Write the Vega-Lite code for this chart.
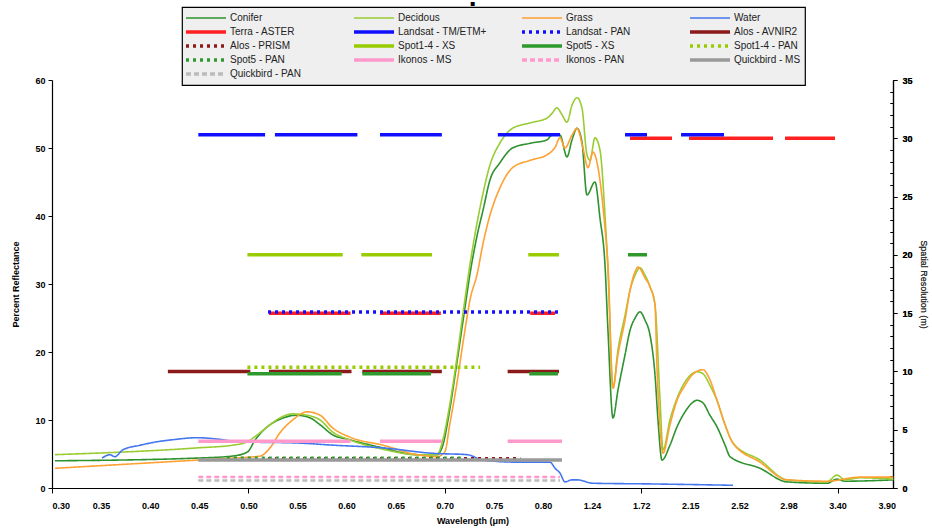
{
  "$schema": "https://vega.github.io/schema/vega-lite/v6.json",
  "width": 841,
  "height": 408,
  "autosize": {"type": "none"},
  "padding": {"left": 52, "top": 80, "right": 39, "bottom": 43},
  "title": {"text": "▪", "fontSize": 8, "font": "DejaVu Sans", "offset": -2, "anchor": "middle", "color": "#000"},
  "datasets": {
    "curves": [
      {"s":"Conifer","w":0.303,"r":4.0},{"s":"Conifer","w":0.448,"r":4.4},{"s":"Conifer","w":0.484,"r":4.7},{"s":"Conifer","w":0.499,"r":5.3},{"s":"Conifer","w":0.507,"r":7.1},{"s":"Conifer","w":0.522,"r":9.3},{"s":"Conifer","w":0.532,"r":10.1},{"s":"Conifer","w":0.549,"r":10.7},{"s":"Conifer","w":0.563,"r":10.3},{"s":"Conifer","w":0.573,"r":9.3},{"s":"Conifer","w":0.586,"r":7.8},{"s":"Conifer","w":0.603,"r":7.1},{"s":"Conifer","w":0.637,"r":5.9},{"s":"Conifer","w":0.672,"r":4.9},{"s":"Conifer","w":0.692,"r":4.9},{"s":"Conifer","w":0.698,"r":6.3},{"s":"Conifer","w":0.705,"r":11.5},{"s":"Conifer","w":0.712,"r":18.1},{"s":"Conifer","w":0.719,"r":25.0},{"s":"Conifer","w":0.726,"r":31.8},{"s":"Conifer","w":0.733,"r":37.2},{"s":"Conifer","w":0.739,"r":40.9},{"s":"Conifer","w":0.746,"r":45.3},{"s":"Conifer","w":0.756,"r":47.8},{"s":"Conifer","w":0.769,"r":50.0},{"s":"Conifer","w":0.787,"r":50.7},{"s":"Conifer","w":0.836,"r":51.2},{"s":"Conifer","w":0.881,"r":51.9},{"s":"Conifer","w":0.952,"r":51.9},{"s":"Conifer","w":1.015,"r":48.7},{"s":"Conifer","w":1.06,"r":51.2},{"s":"Conifer","w":1.105,"r":52.9},{"s":"Conifer","w":1.149,"r":50.9},{"s":"Conifer","w":1.194,"r":43.1},{"s":"Conifer","w":1.268,"r":45.0},{"s":"Conifer","w":1.317,"r":39.7},{"s":"Conifer","w":1.366,"r":32.8},{"s":"Conifer","w":1.395,"r":23.2},{"s":"Conifer","w":1.444,"r":10.3},{"s":"Conifer","w":1.493,"r":14.4},{"s":"Conifer","w":1.562,"r":19.6},{"s":"Conifer","w":1.611,"r":23.2},{"s":"Conifer","w":1.66,"r":25.0},{"s":"Conifer","w":1.708,"r":25.9},{"s":"Conifer","w":1.753,"r":24.7},{"s":"Conifer","w":1.797,"r":22.5},{"s":"Conifer","w":1.841,"r":16.6},{"s":"Conifer","w":1.867,"r":10.0},{"s":"Conifer","w":1.902,"r":4.1},{"s":"Conifer","w":1.972,"r":6.3},{"s":"Conifer","w":2.034,"r":9.0},{"s":"Conifer","w":2.104,"r":11.2},{"s":"Conifer","w":2.163,"r":12.5},{"s":"Conifer","w":2.2,"r":12.9},{"s":"Conifer","w":2.246,"r":12.5},{"s":"Conifer","w":2.298,"r":10.7},{"s":"Conifer","w":2.351,"r":9.0},{"s":"Conifer","w":2.412,"r":6.3},{"s":"Conifer","w":2.45,"r":4.6},{"s":"Conifer","w":2.713,"r":2.9},{"s":"Conifer","w":2.966,"r":0.9},{"s":"Conifer","w":3.309,"r":0.7},{"s":"Conifer","w":3.394,"r":1.3},{"s":"Conifer","w":3.475,"r":1.0},{"s":"Conifer","w":3.964,"r":1.2},
      {"s":"Decidous","w":0.303,"r":4.9},{"s":"Decidous","w":0.448,"r":5.9},{"s":"Decidous","w":0.484,"r":6.3},{"s":"Decidous","w":0.499,"r":6.8},{"s":"Decidous","w":0.507,"r":7.6},{"s":"Decidous","w":0.522,"r":9.3},{"s":"Decidous","w":0.532,"r":10.3},{"s":"Decidous","w":0.545,"r":10.9},{"s":"Decidous","w":0.56,"r":10.7},{"s":"Decidous","w":0.573,"r":10.0},{"s":"Decidous","w":0.586,"r":8.2},{"s":"Decidous","w":0.603,"r":7.1},{"s":"Decidous","w":0.637,"r":5.7},{"s":"Decidous","w":0.672,"r":4.9},{"s":"Decidous","w":0.692,"r":4.9},{"s":"Decidous","w":0.698,"r":7.1},{"s":"Decidous","w":0.705,"r":12.2},{"s":"Decidous","w":0.712,"r":18.8},{"s":"Decidous","w":0.719,"r":26.2},{"s":"Decidous","w":0.726,"r":33.2},{"s":"Decidous","w":0.733,"r":39.1},{"s":"Decidous","w":0.739,"r":43.4},{"s":"Decidous","w":0.746,"r":47.5},{"s":"Decidous","w":0.756,"r":50.7},{"s":"Decidous","w":0.769,"r":52.9},{"s":"Decidous","w":0.787,"r":53.7},{"s":"Decidous","w":0.836,"r":54.4},{"s":"Decidous","w":0.881,"r":55.1},{"s":"Decidous","w":0.925,"r":55.9},{"s":"Decidous","w":0.97,"r":54.9},{"s":"Decidous","w":1.015,"r":53.8},{"s":"Decidous","w":1.06,"r":56.3},{"s":"Decidous","w":1.105,"r":57.4},{"s":"Decidous","w":1.149,"r":55.9},{"s":"Decidous","w":1.194,"r":49.0},{"s":"Decidous","w":1.221,"r":48.2},{"s":"Decidous","w":1.268,"r":51.5},{"s":"Decidous","w":1.317,"r":49.7},{"s":"Decidous","w":1.366,"r":40.1},{"s":"Decidous","w":1.395,"r":32.1},{"s":"Decidous","w":1.444,"r":14.7},{"s":"Decidous","w":1.493,"r":20.3},{"s":"Decidous","w":1.562,"r":25.4},{"s":"Decidous","w":1.611,"r":29.1},{"s":"Decidous","w":1.66,"r":31.3},{"s":"Decidous","w":1.708,"r":32.4},{"s":"Decidous","w":1.753,"r":31.3},{"s":"Decidous","w":1.797,"r":29.6},{"s":"Decidous","w":1.841,"r":26.9},{"s":"Decidous","w":1.885,"r":12.9},{"s":"Decidous","w":1.911,"r":5.6},{"s":"Decidous","w":1.972,"r":10.0},{"s":"Decidous","w":2.034,"r":13.2},{"s":"Decidous","w":2.104,"r":15.6},{"s":"Decidous","w":2.163,"r":16.8},{"s":"Decidous","w":2.2,"r":17.1},{"s":"Decidous","w":2.246,"r":16.8},{"s":"Decidous","w":2.298,"r":15.1},{"s":"Decidous","w":2.351,"r":12.9},{"s":"Decidous","w":2.412,"r":9.3},{"s":"Decidous","w":2.472,"r":6.6},{"s":"Decidous","w":2.713,"r":4.1},{"s":"Decidous","w":2.966,"r":1.2},{"s":"Decidous","w":3.309,"r":0.9},{"s":"Decidous","w":3.394,"r":1.9},{"s":"Decidous","w":3.475,"r":1.2},{"s":"Decidous","w":3.628,"r":1.5},{"s":"Decidous","w":3.964,"r":1.3},
      {"s":"Grass","w":0.303,"r":2.9},{"s":"Grass","w":0.448,"r":4.1},{"s":"Grass","w":0.484,"r":4.4},{"s":"Grass","w":0.512,"r":4.7},{"s":"Grass","w":0.522,"r":5.9},{"s":"Grass","w":0.532,"r":8.1},{"s":"Grass","w":0.545,"r":10.0},{"s":"Grass","w":0.56,"r":11.2},{"s":"Grass","w":0.573,"r":10.7},{"s":"Grass","w":0.586,"r":8.8},{"s":"Grass","w":0.603,"r":7.5},{"s":"Grass","w":0.637,"r":6.3},{"s":"Grass","w":0.672,"r":4.9},{"s":"Grass","w":0.692,"r":4.6},{"s":"Grass","w":0.7,"r":5.3},{"s":"Grass","w":0.705,"r":9.3},{"s":"Grass","w":0.712,"r":15.1},{"s":"Grass","w":0.719,"r":21.8},{"s":"Grass","w":0.726,"r":27.9},{"s":"Grass","w":0.733,"r":31.5},{"s":"Grass","w":0.739,"r":36.0},{"s":"Grass","w":0.746,"r":40.1},{"s":"Grass","w":0.756,"r":44.1},{"s":"Grass","w":0.769,"r":47.1},{"s":"Grass","w":0.787,"r":48.2},{"s":"Grass","w":0.836,"r":49.0},{"s":"Grass","w":0.908,"r":50.1},{"s":"Grass","w":0.952,"r":51.5},{"s":"Grass","w":0.997,"r":50.0},{"s":"Grass","w":1.06,"r":51.9},{"s":"Grass","w":1.105,"r":52.9},{"s":"Grass","w":1.158,"r":50.0},{"s":"Grass","w":1.203,"r":47.1},{"s":"Grass","w":1.249,"r":49.4},{"s":"Grass","w":1.298,"r":47.1},{"s":"Grass","w":1.366,"r":38.2},{"s":"Grass","w":1.395,"r":32.8},{"s":"Grass","w":1.444,"r":14.7},{"s":"Grass","w":1.493,"r":19.6},{"s":"Grass","w":1.562,"r":24.7},{"s":"Grass","w":1.611,"r":29.1},{"s":"Grass","w":1.66,"r":31.8},{"s":"Grass","w":1.689,"r":32.5},{"s":"Grass","w":1.753,"r":30.9},{"s":"Grass","w":1.797,"r":29.6},{"s":"Grass","w":1.841,"r":26.9},{"s":"Grass","w":1.858,"r":17.8},{"s":"Grass","w":1.885,"r":9.0},{"s":"Grass","w":1.911,"r":5.1},{"s":"Grass","w":1.972,"r":9.3},{"s":"Grass","w":2.034,"r":12.9},{"s":"Grass","w":2.104,"r":15.1},{"s":"Grass","w":2.163,"r":16.6},{"s":"Grass","w":2.246,"r":17.4},{"s":"Grass","w":2.298,"r":15.9},{"s":"Grass","w":2.351,"r":12.9},{"s":"Grass","w":2.412,"r":9.3},{"s":"Grass","w":2.472,"r":6.6},{"s":"Grass","w":2.713,"r":3.8},{"s":"Grass","w":2.966,"r":1.2},{"s":"Grass","w":3.309,"r":1.0},{"s":"Grass","w":3.628,"r":1.6},{"s":"Grass","w":3.964,"r":1.6},
      {"s":"Water","w":0.351,"r":4.4},{"s":"Water","w":0.359,"r":4.9},{"s":"Water","w":0.364,"r":4.6},{"s":"Water","w":0.372,"r":5.6},{"s":"Water","w":0.39,"r":6.3},{"s":"Water","w":0.407,"r":6.8},{"s":"Water","w":0.423,"r":7.1},{"s":"Water","w":0.448,"r":7.4},{"s":"Water","w":0.468,"r":7.2},{"s":"Water","w":0.491,"r":6.8},{"s":"Water","w":0.553,"r":6.6},{"s":"Water","w":0.586,"r":6.3},{"s":"Water","w":0.637,"r":5.9},{"s":"Water","w":0.688,"r":5.1},{"s":"Water","w":0.723,"r":4.9},{"s":"Water","w":0.739,"r":4.1},{"s":"Water","w":0.774,"r":3.8},{"s":"Water","w":0.863,"r":3.8},{"s":"Water","w":0.908,"r":2.9},{"s":"Water","w":0.952,"r":2.2},{"s":"Water","w":0.997,"r":0.9},{"s":"Water","w":1.06,"r":1.2},{"s":"Water","w":1.105,"r":1.2},{"s":"Water","w":1.249,"r":0.7},{"s":"Water","w":1.797,"r":0.6},{"s":"Water","w":2.472,"r":0.4}
    ],
    "bands": [
      {"s":"Terra - ASTER","a":0.521,"b":0.604,"m":15},{"s":"Terra - ASTER","a":0.634,"b":0.696,"m":15},{"s":"Terra - ASTER","a":0.787,"b":0.908,"m":15},{"s":"Terra - ASTER","a":1.611,"b":1.99,"m":30},{"s":"Terra - ASTER","a":2.139,"b":2.835,"m":30},{"s":"Terra - ASTER","a":2.947,"b":3.378,"m":30},
      {"s":"Landsat - TM/ETM+","a":0.449,"b":0.517,"m":30.3},{"s":"Landsat - TM/ETM+","a":0.527,"b":0.611,"m":30.3},{"s":"Landsat - TM/ETM+","a":0.634,"b":0.697,"m":30.3},{"s":"Landsat - TM/ETM+","a":0.754,"b":0.952,"m":30.3},{"s":"Landsat - TM/ETM+","a":1.562,"b":1.771,"m":30.3},{"s":"Landsat - TM/ETM+","a":2.069,"b":2.404,"m":30.3},
      {"s":"Landsat - PAN","a":0.52,"b":0.934,"m":15.1},
      {"s":"Alos - AVNIR2","a":0.418,"b":0.502,"m":10},{"s":"Alos - AVNIR2","a":0.521,"b":0.605,"m":10},{"s":"Alos - AVNIR2","a":0.616,"b":0.697,"m":10},{"s":"Alos - AVNIR2","a":0.764,"b":0.943,"m":10},
      {"s":"Alos - PRISM","a":0.52,"b":0.777,"m":2.5},
      {"s":"Spot1-4 - XS","a":0.499,"b":0.596,"m":20},{"s":"Spot1-4 - XS","a":0.615,"b":0.687,"m":20},{"s":"Spot1-4 - XS","a":0.785,"b":0.943,"m":20},
      {"s":"Spot5 - XS","a":0.499,"b":0.595,"m":9.8},{"s":"Spot5 - XS","a":0.616,"b":0.686,"m":9.8},{"s":"Spot5 - XS","a":0.786,"b":0.934,"m":9.8},{"s":"Spot5 - XS","a":1.591,"b":1.771,"m":20},
      {"s":"Spot1-4 - PAN","a":0.499,"b":0.736,"m":10.35},
      {"s":"Spot5 - PAN","a":0.478,"b":0.718,"m":2.55},
      {"s":"Ikonos - MS","a":0.449,"b":0.604,"m":4},{"s":"Ikonos - MS","a":0.634,"b":0.697,"m":4},{"s":"Ikonos - MS","a":0.764,"b":0.97,"m":4},
      {"s":"Ikonos - PAN","a":0.449,"b":0.952,"m":0.95},
      {"s":"Quickbird - MS","a":0.449,"b":0.97,"m":2.4},
      {"s":"Quickbird - PAN","a":0.449,"b":0.952,"m":0.65}
    ]
  },
  "layer": [
    {
      "data": {"name": "curves"},
      "mark": {"type": "line", "strokeWidth": 1.6, "interpolate": "monotone"},
      "encoding": {
        "x": {"field": "w", "type": "quantitative",
          "scale": {"type": "linear", "domain": [0.3,0.35,0.4,0.45,0.5,0.55,0.6,0.65,0.7,0.75,0.8,1.24,1.72,2.15,2.52,2.98,3.4,3.9,3.96],
                    "range": [0,49.1,98.2,147.3,196.4,245.5,294.6,343.7,392.8,441.9,491,540.1,589.2,638.3,687.4,736.5,785.6,834.7,841], "nice": false, "zero": false},
          "axis": {"title": "Wavelength (μm)", "values": [0.3,0.35,0.4,0.45,0.5,0.55,0.6,0.65,0.7,0.75,0.8,1.24,1.72,2.15,2.52,2.98,3.4,3.9],
                   "format": ".2f", "labelOverlap": false, "labelFontSize": 9, "labelFontWeight": "bold", "tickSize": 5, "labelPadding": 8,
                   "tickOpacity": {"condition": {"test": "indexof([0.3,0.5,0.7,1.72,3.4], datum.value) >= 0", "value": 1}, "value": 0},
                   "titleFontSize": 9, "titleFontWeight": "bold", "titlePadding": 6}},
        "y": {"field": "r", "type": "quantitative",
          "scale": {"domain": [0, 60], "nice": false},
          "axis": {"title": "Percent Reflectance", "orient": "left", "values": [0,10,20,30,40,50,60], "labelFontSize": 9, "labelFontWeight": "bold",
                   "tickSize": 4, "labelPadding": 3, "titleFontSize": 9, "titleFontWeight": "bold", "titlePadding": 14}},
        "color": {"field": "s", "type": "nominal", "sort": null,
          "legend": {"title": null,
                     "encode": {"symbols": {"update": {"x": {"value": 20}, "strokeWidth": {"signal": "indexof(['Conifer','Decidous','Grass','Water'], datum.value) >= 0 ? 1.5 : 3.5"}}},
                                "labels": {"update": {"x": {"value": 44}}}}},
          "scale": {"domain": ["Conifer","Terra - ASTER","Alos - PRISM","Spot1-4 - PAN","Ikonos - PAN","Decidous","Landsat - TM/ETM+","Spot1-4 - XS","Spot5 - PAN","Quickbird - MS","Grass","Landsat - PAN","Spot5 - XS","Ikonos - MS","Quickbird - PAN","Water","Alos - AVNIR2"],
                    "range": ["#2e922e","#ff2020","#8b1a1a","#99cc00","#ff99cc","#99cc33","#1010ff","#99cc00","#2e9a2e","#999999","#ffa033","#1010ff","#2e9a2e","#ff99cc","#bbbbbb","#4477ee","#8b1a1a"]}},
        "strokeDash": {"field": "s", "type": "nominal", "sort": null, "legend": {"title": null},
          "scale": {"domain": ["Conifer","Terra - ASTER","Alos - PRISM","Spot1-4 - PAN","Ikonos - PAN","Decidous","Landsat - TM/ETM+","Spot1-4 - XS","Spot5 - PAN","Quickbird - MS","Grass","Landsat - PAN","Spot5 - XS","Ikonos - MS","Quickbird - PAN","Water","Alos - AVNIR2"],
                    "range": [[1,0],[1,0],[3,4],[3,4],[5,3],[1,0],[1,0],[1,0],[3,4],[1,0],[1,0],[3,4],[1,0],[1,0],[5,3],[1,0],[1,0]]}}
      }
    },
    {
      "data": {"name": "bands"},
      "transform": [{"filter": "datum.s !== 'Ikonos - PAN' && datum.s !== 'Quickbird - PAN'"}],
      "mark": {"type": "rule", "strokeWidth": 3.5},
      "encoding": {
        "x": {"field": "a", "type": "quantitative",
          "axis": {"title": "Wavelength (μm)", "values": [0.3,0.35,0.4,0.45,0.5,0.55,0.6,0.65,0.7,0.75,0.8,1.24,1.72,2.15,2.52,2.98,3.4,3.9],
                   "format": ".2f", "labelOverlap": false, "labelFontSize": 9, "labelFontWeight": "bold", "tickSize": 5, "labelPadding": 8,
                   "tickOpacity": {"condition": {"test": "indexof([0.3,0.5,0.7,1.72,3.4], datum.value) >= 0", "value": 1}, "value": 0},
                   "titleFontSize": 9, "titleFontWeight": "bold", "titlePadding": 6}},
        "x2": {"field": "b"},
        "y": {"field": "m", "type": "quantitative",
          "scale": {"domain": [0, 35], "nice": false},
          "axis": {"title": "Spatial Resolution (m)", "orient": "right", "values": [0,1,2,3,4,5,6,7,8,9,10,11,12,13,14,15,16,17,18,19,20,21,22,23,24,25,26,27,28,29,30,31,32,33,34,35],
                   "labelExpr": "datum.value % 5 === 0 ? datum.label : ''", "labelOverlap": false, "labelFontSize": 9, "labelFontWeight": "bold",
                   "tickSize": {"condition": {"test": "datum.value % 5 === 0", "value": 4}, "value": -3},
                   "labelPadding": 5, "titleFontSize": 9, "titleFontWeight": "normal", "titleColor": "#333", "titlePadding": 6}},
        "color": {"field": "s", "type": "nominal", "sort": null, "legend": {"title": null},
          "scale": {"domain": ["Conifer","Terra - ASTER","Alos - PRISM","Spot1-4 - PAN","Ikonos - PAN","Decidous","Landsat - TM/ETM+","Spot1-4 - XS","Spot5 - PAN","Quickbird - MS","Grass","Landsat - PAN","Spot5 - XS","Ikonos - MS","Quickbird - PAN","Water","Alos - AVNIR2"]}},
        "strokeDash": {"field": "s", "type": "nominal", "sort": null, "legend": {"title": null},
          "scale": {"domain": ["Conifer","Terra - ASTER","Alos - PRISM","Spot1-4 - PAN","Ikonos - PAN","Decidous","Landsat - TM/ETM+","Spot1-4 - XS","Spot5 - PAN","Quickbird - MS","Grass","Landsat - PAN","Spot5 - XS","Ikonos - MS","Quickbird - PAN","Water","Alos - AVNIR2"]}}
      }
    },
    {
      "data": {"name": "bands"},
      "transform": [{"filter": "datum.s === 'Ikonos - PAN' || datum.s === 'Quickbird - PAN'"}],
      "mark": {"type": "rule", "strokeWidth": 2.5},
      "encoding": {
        "x": {"field": "a", "type": "quantitative",
          "axis": {"title": "Wavelength (μm)", "values": [0.3,0.35,0.4,0.45,0.5,0.55,0.6,0.65,0.7,0.75,0.8,1.24,1.72,2.15,2.52,2.98,3.4,3.9],
                   "format": ".2f", "labelOverlap": false, "labelFontSize": 9, "labelFontWeight": "bold", "tickSize": 5, "labelPadding": 8,
                   "tickOpacity": {"condition": {"test": "indexof([0.3,0.5,0.7,1.72,3.4], datum.value) >= 0", "value": 1}, "value": 0},
                   "titleFontSize": 9, "titleFontWeight": "bold", "titlePadding": 6}},
        "x2": {"field": "b"},
        "y": {"field": "m", "type": "quantitative",
          "scale": {"domain": [0, 35], "nice": false},
          "axis": {"title": "Spatial Resolution (m)", "orient": "right", "values": [0,1,2,3,4,5,6,7,8,9,10,11,12,13,14,15,16,17,18,19,20,21,22,23,24,25,26,27,28,29,30,31,32,33,34,35],
                   "labelExpr": "datum.value % 5 === 0 ? datum.label : ''", "labelOverlap": false, "labelFontSize": 9, "labelFontWeight": "bold",
                   "tickSize": {"condition": {"test": "datum.value % 5 === 0", "value": 4}, "value": -3},
                   "labelPadding": 5, "titleFontSize": 9, "titleFontWeight": "normal", "titleColor": "#333", "titlePadding": 6}},
        "color": {"field": "s", "type": "nominal", "sort": null, "legend": {"title": null},
          "scale": {"domain": ["Conifer","Terra - ASTER","Alos - PRISM","Spot1-4 - PAN","Ikonos - PAN","Decidous","Landsat - TM/ETM+","Spot1-4 - XS","Spot5 - PAN","Quickbird - MS","Grass","Landsat - PAN","Spot5 - XS","Ikonos - MS","Quickbird - PAN","Water","Alos - AVNIR2"]}},
        "strokeDash": {"field": "s", "type": "nominal", "sort": null, "legend": {"title": null},
          "scale": {"domain": ["Conifer","Terra - ASTER","Alos - PRISM","Spot1-4 - PAN","Ikonos - PAN","Decidous","Landsat - TM/ETM+","Spot1-4 - XS","Spot5 - PAN","Quickbird - MS","Grass","Landsat - PAN","Spot5 - XS","Ikonos - MS","Quickbird - PAN","Water","Alos - AVNIR2"]}}
      }
    }
  ],
  "resolve": {"scale": {"y": "independent"}},
  "config": {
    "view": {"stroke": null},
    "axis": {"grid": false, "domainColor": "#000", "tickColor": "#000", "labelColor": "#000", "titleColor": "#000", "labelFont": "Liberation Sans", "titleFont": "Liberation Sans", "domainWidth": 1.2},
    "legend": {
      "orient": "none", "legendX": 130, "legendY": -73, "columns": 4, "symbolType": "stroke", "symbolSize": 1600,
      "symbolStrokeWidth": 2, "labelFont": "Liberation Sans", "labelFontSize": 10, "labelColor": "#222", "labelOffset": 3,
      "clipHeight": 14, "rowPadding": 0, "columnPadding": 35, "padding": 4, "fillColor": "#efefef", "strokeColor": "#000",
      "strokeWidth": 1.2, "gridAlign": "all", "labelLimit": 130
    }
  }
}
